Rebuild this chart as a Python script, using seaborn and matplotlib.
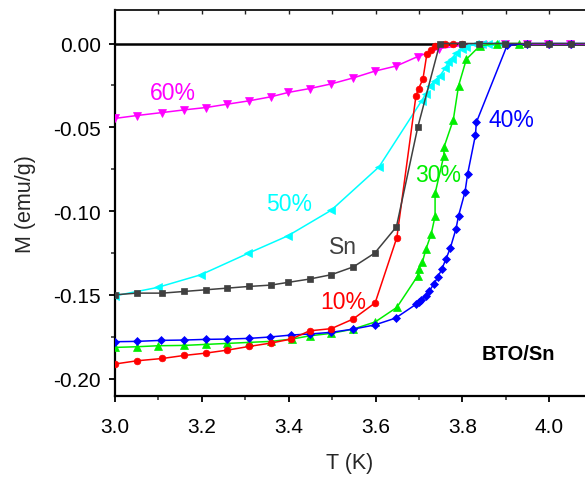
import numpy as np
import pandas as pd
import matplotlib
matplotlib.use("Agg")
import matplotlib.pyplot as plt
import seaborn as sns
from matplotlib.ticker import MultipleLocator, FormatStrFormatter

# ---- data ----
T_60 = [3.0, 3.05, 3.109, 3.16, 3.21, 3.259, 3.309, 3.359, 3.399, 3.448, 3.498, 3.549,
        3.598, 3.648, 3.697, 3.747, 3.797, 3.848, 3.898, 3.948, 3.998, 4.048, 4.098]
M_60 = [-0.0447, -0.0430, -0.0412, -0.0396, -0.0382, -0.0362, -0.0342, -0.0318, -0.0292,
        -0.0269, -0.0241, -0.0205, -0.0165, -0.0134, -0.0078, -0.0030, -0.0012, -0.0006,
        -0.0004, -0.0004, -0.0004, -0.0004, -0.0004]

T_50 = [3.0, 3.098, 3.198, 3.306, 3.398, 3.498, 3.608, 3.706, 3.716, 3.725, 3.736, 3.748,
        3.760, 3.767, 3.775, 3.786, 3.798, 3.809, 3.83, 3.845, 3.86, 3.875, 3.89]
M_50 = [-0.1506, -0.1456, -0.1380, -0.1253, -0.1148, -0.0995, -0.0736, -0.0342, -0.0300,
        -0.0253, -0.0222, -0.0193, -0.0149, -0.0113, -0.0090, -0.0058, -0.0034, -0.0018,
        -0.0005, 0.0, 0.0, 0.0, 0.0]

T_Sn = [3.0, 3.05, 3.109, 3.159, 3.209, 3.259, 3.309, 3.359, 3.398, 3.448, 3.498, 3.549,
        3.598, 3.648, 3.697, 3.748, 3.798, 3.839, 3.899, 3.948, 3.999, 4.049, 4.099]
M_Sn = [-0.1500, -0.1490, -0.1490, -0.1480, -0.1470, -0.1460, -0.1450, -0.1442, -0.1426,
        -0.1406, -0.1380, -0.1333, -0.1251, -0.1094, -0.0501, 0.0, 0.0, 0.0, 0.0, 0.0,
        0.0, 0.0, 0.0]

T_10 = [3.0, 3.05, 3.109, 3.159, 3.209, 3.259, 3.309, 3.359, 3.406, 3.448, 3.498, 3.548,
        3.599, 3.649, 3.693, 3.699, 3.709, 3.718, 3.727, 3.737, 3.76, 3.779, 3.80]
M_10 = [-0.1913, -0.1894, -0.1880, -0.1862, -0.1848, -0.1830, -0.1808, -0.1788, -0.1764,
        -0.1715, -0.1702, -0.1645, -0.1548, -0.1158, -0.0312, -0.0269, -0.0213, -0.0064,
        -0.0038, -0.0014, 0.0, 0.0, 0.0]

T_30 = [3.0, 3.05, 3.1, 3.159, 3.209, 3.259, 3.309, 3.359, 3.408, 3.448, 3.498, 3.548,
        3.599, 3.649, 3.697, 3.699, 3.708, 3.716, 3.728, 3.737, 3.737, 3.757, 3.758,
        3.779, 3.791, 3.809, 3.840, 3.88, 3.93]
M_30 = [-0.1814, -0.1810, -0.1804, -0.1802, -0.1796, -0.1790, -0.1784, -0.1778, -0.1764,
        -0.1745, -0.1730, -0.1705, -0.1662, -0.1575, -0.1387, -0.1343, -0.1303, -0.1227,
        -0.1138, -0.1030, -0.0895, -0.0671, -0.0615, -0.0455, -0.0253, -0.0094, -0.0014,
        0.0, 0.0]

T_40 = [3.0, 3.05, 3.106, 3.159, 3.209, 3.259, 3.309, 3.356, 3.406, 3.448, 3.498, 3.548,
        3.598, 3.646, 3.694, 3.70, 3.705, 3.715, 3.724, 3.734, 3.743, 3.753, 3.762, 3.772,
        3.785, 3.791, 3.806, 3.812, 3.830, 3.832, 3.903, 3.948, 3.999, 4.049, 4.099]
M_40 = [-0.1780, -0.1778, -0.1772, -0.1770, -0.1766, -0.1764, -0.1760, -0.1752, -0.1740,
        -0.1734, -0.1724, -0.1705, -0.1680, -0.1639, -0.1555, -0.1542, -0.1530, -0.1506,
        -0.1476, -0.1436, -0.1396, -0.1343, -0.1287, -0.1221, -0.1108, -0.1029, -0.0885,
        -0.0778, -0.0545, -0.0471, -0.0010, 0.0, 0.0, 0.0, 0.0]

x_ticks = [3.0, 3.2, 3.4, 3.6, 3.8, 4.0]
y_ticks = [-0.20, -0.15, -0.10, -0.05, 0.00]

# ---- style ----
sns.set_style("ticks")
plt.rcParams["font.family"] = ["Liberation Sans", "DejaVu Sans"]
plt.rcParams["axes.unicode_minus"] = False

fig = plt.figure(figsize=(5.85, 4.81), dpi=100)
ax = fig.add_axes([115 / 585, 1 - 397 / 481, 1 - 115 / 585, (397 - 11) / 481])

ax.axhline(0, color="black", lw=1.8, zorder=1.5)

series = [
    ("60%", T_60, M_60, "#FF00FF", "v", 5.2),
    ("50%", T_50, M_50, "#00FFFF", "<", 5.2),
    ("30%", T_30, M_30, "#00EE00", "^", 5.2),
    ("40%", T_40, M_40, "#0000FF", "D", 4.4),
    ("10%", T_10, M_10, "#FF0000", "o", 4.8),
    ("Sn", T_Sn, M_Sn, "#404040", "s", 4.5),
]
for name, T, M, c, m, ms in series:
    df = pd.DataFrame({"T": T, "M": M})
    sns.lineplot(data=df, x="T", y="M", ax=ax, color=c, marker=m, markersize=ms,
                 markeredgecolor=c, markeredgewidth=0.5, linewidth=1.1,
                 estimator=None, sort=False, zorder=3)

ax.set_xlim(3.0, 3.0 + 470 / 434.3)
ax.set_ylim(-0.2104, 0.0200)

ax.xaxis.set_major_locator(MultipleLocator(0.2))
ax.xaxis.set_minor_locator(MultipleLocator(0.1))
ax.yaxis.set_major_locator(MultipleLocator(0.05))
ax.yaxis.set_minor_locator(MultipleLocator(0.025))
ax.set_xticks(x_ticks)
ax.set_yticks(y_ticks)
ax.xaxis.set_major_formatter(FormatStrFormatter("%.1f"))
ax.yaxis.set_major_formatter(FormatStrFormatter("%.2f"))

ax.tick_params(axis="both", which="major", direction="out", length=4.3, width=1.3,
               labelsize=15, colors="black", pad=6)
ax.tick_params(axis="both", which="minor", direction="out", length=2.6, width=1.1)
ax.tick_params(axis="x", which="major", pad=11)

for s in ["left", "bottom"]:
    ax.spines[s].set_linewidth(1.6)
    ax.spines[s].set_color("black")
ax.spines["right"].set_visible(False)
ax.spines["top"].set_linewidth(1.2)
ax.spines["top"].set_color("#222222")

sec = ax.secondary_xaxis("top")
sec.set_xticks(np.round(np.arange(3.1, 4.11, 0.1), 2))
sec.tick_params(direction="in", length=3, width=1.0, labeltop=False, colors="#222222")
sec.spines["top"].set_linewidth(1.2)
sec.spines["top"].set_color("#222222")

ax.set_xlabel("T (K)", fontsize=15.5, labelpad=11)
ax.set_ylabel("M (emu/g)", fontsize=15.5, labelpad=12)

labels = [
    ("60%", 3.134, -0.0291, "#FF00FF"),
    ("50%", 3.401, -0.0953, "#00FFFF"),
    ("Sn", 3.526, -0.1211, "#404040"),
    ("10%", 3.526, -0.1542, "#FF0000"),
    ("30%", 3.744, -0.0780, "#00EE00"),
    ("40%", 3.913, -0.0452, "#0000FF"),
]
for txt, x, y, c in labels:
    ax.text(x, y, txt, color=c, fontsize=16.5, ha="center", va="center", zorder=5)
ax.text(3.929, -0.1850, "BTO/Sn", color="black", fontsize=14.5, fontweight="bold",
        ha="center", va="center", zorder=5)

fig.savefig("out.png", dpi=100)
